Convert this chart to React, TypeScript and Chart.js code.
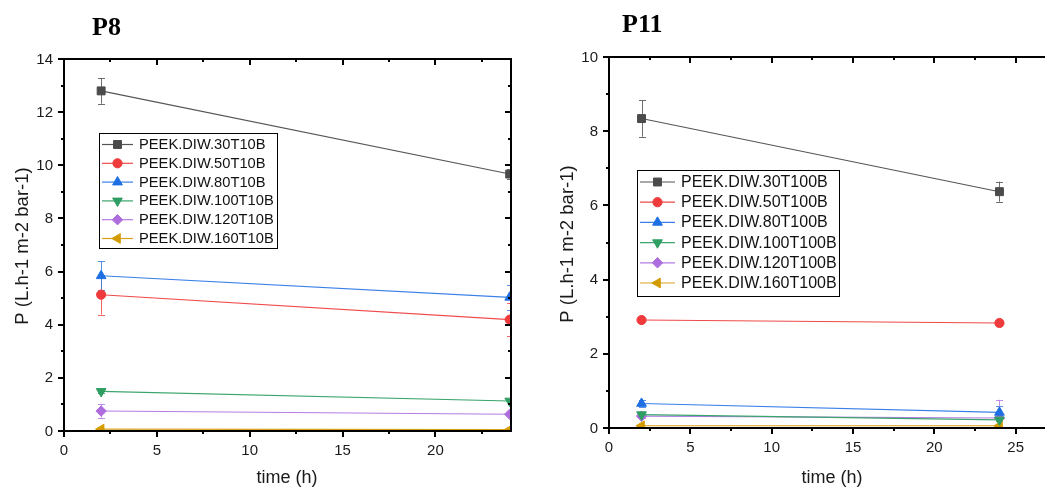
import React, { useEffect, useRef } from "react";
import { Chart, registerables } from "chart.js";

Chart.register(...registerables);

// ---------- data ----------
const timeH = [2, 24];

const p8Names = [
  "PEEK.DIW.30T10B",
  "PEEK.DIW.50T10B",
  "PEEK.DIW.80T10B",
  "PEEK.DIW.100T10B",
  "PEEK.DIW.120T10B",
  "PEEK.DIW.160T10B",
];
const p8_30 = [12.8, 9.67];
const p8_50 = [5.13, 4.19];
const p8_80 = [5.84, 5.03];
const p8_100 = [1.49, 1.13];
const p8_120 = [0.75, 0.63];
const p8_160 = [0.07, 0.05];
const p8_30Err = [0.48, 0.2];
const p8_50Err = [0.75, 0.63];
const p8_80Err = [0.54, 0.46];
const p8_100Err = [0.05, 0.05];
const p8_120Err = [0.25, 0.05];
const p8_160Err = [0.02, 0.02];

const p11Names = [
  "PEEK.DIW.30T100B",
  "PEEK.DIW.50T100B",
  "PEEK.DIW.80T100B",
  "PEEK.DIW.100T100B",
  "PEEK.DIW.120T100B",
  "PEEK.DIW.160T100B",
];
const p11_30 = [8.34, 6.37];
const p11_50 = [2.91, 2.83];
const p11_80 = [0.66, 0.42];
const p11_100 = [0.36, 0.22];
const p11_120 = [0.32, 0.27];
const p11_160 = [0.06, 0.06];
const p11_30Err = [0.49, 0.27];
const p11_50Err = [0.03, 0.03];
const p11_80Err = [0.1, 0.16];
const p11_100Err = [0.04, 0.03];
const p11_120Err = [0.05, 0.49];
const p11_160Err = [0.02, 0.02];

const p8YTicks = [0, 2, 4, 6, 8, 10, 12, 14];
const p11YTicks = [0, 2, 4, 6, 8, 10];
const p8XTicks = [0, 5, 10, 15, 20];
const p11XTicks = [0, 5, 10, 15, 20, 25];

const xTitle = "time (h)";
const yTitle = "P (L.h-1 m-2 bar-1)";

// ---------- styles ----------
const markerColors = ["#4b4b4b", "#ef3b3b", "#1d6fe3", "#2f9e62", "#ad6ddf", "#d39b00"];
const lineColors = ["#555555", "#f04a4a", "#3a80e8", "#3aa56c", "#b57ce4", "#d6a21a"];
const markerStyles = ["rect", "circle", "triangle", "triangle", "rectRot", "triangle"];
const markerRot = [0, 0, 0, 180, 0, 270];
const markerRad = [5.6, 4.6, 5.6, 5.6, 5.2, 5.6];

const SANS = "'Liberation Sans', Arial, sans-serif";
const SERIF = "'Liberation Serif', 'Times New Roman', serif";

type Spec = {
  key: string;
  title: string;
  titleX: number;
  titleY: number;
  canvasX: number;
  width: number;
  pad: { left: number; right: number; top: number; bottom: number };
  xMax: number;
  yMax: number;
  yTicks: number[];
  yMinorStep: number;
  xTicks: number[];
  names: string[];
  values: number[][];
  errs: number[][];
  rightBorder: boolean;
  yTitleX: number;
  yTitleY: number;
  xTitleX: number;
  xTitleY: number;
  legend: { x0: number; y0: number; x1: number; y1: number; row0: number; rowH: number; lineX0: number; lineX1: number; textX: number; font: number };
};

const p8Spec: Spec = {
  key: "p8",
  title: "P8",
  titleX: 92,
  titleY: 35,
  canvasX: 0,
  width: 545,
  pad: { left: 64, right: 545 - 511, top: 59, bottom: 488 - 431 },
  xMax: 24.07,
  yMax: 14,
  yTicks: p8YTicks,
  yMinorStep: 1,
  xTicks: p8XTicks,
  names: p8Names,
  values: [p8_30, p8_50, p8_80, p8_100, p8_120, p8_160],
  errs: [p8_30Err, p8_50Err, p8_80Err, p8_100Err, p8_120Err, p8_160Err],
  rightBorder: true,
  yTitleX: 23,
  yTitleY: 246,
  xTitleX: 287,
  xTitleY: 478,
  legend: { x0: 99.5, y0: 133.5, x1: 277.5, y1: 248.5, row0: 144.5, rowH: 18.8, lineX0: 102, lineX1: 133, textX: 139, font: 14.7 },
};

const p11Spec: Spec = {
  key: "p11",
  title: "P11",
  titleX: 622 - 545,
  titleY: 32,
  canvasX: 545,
  width: 500,
  pad: { left: 609 - 545, right: 0, top: 57, bottom: 488 - 428 },
  xMax: 26.8,
  yMax: 10,
  yTicks: p11YTicks,
  yMinorStep: 1,
  xTicks: p11XTicks,
  names: p11Names,
  values: [p11_30, p11_50, p11_80, p11_100, p11_120, p11_160],
  errs: [p11_30Err, p11_50Err, p11_80Err, p11_100Err, p11_120Err, p11_160Err],
  rightBorder: false,
  yTitleX: 568 - 545,
  yTitleY: 244,
  xTitleX: 832 - 545,
  xTitleY: 478,
  legend: { x0: 637.5 - 545, y0: 170.5, x1: 839.5 - 545, y1: 296.5, row0: 182, rowH: 20.2, lineX0: 640 - 545, lineX1: 675 - 545, textX: 681 - 545, font: 16 },
};

// ---------- helpers ----------
function drawMarker(ctx: CanvasRenderingContext2D, style: string, x: number, y: number, r: number, rotDeg: number, color: string) {
  const rad = (rotDeg * Math.PI) / 180;
  ctx.save();
  ctx.fillStyle = color;
  ctx.strokeStyle = color;
  ctx.lineWidth = 1;
  ctx.beginPath();
  if (style === "rect") {
    const s = Math.SQRT1_2 * r;
    ctx.rect(x - s, y - s, 2 * s, 2 * s);
  } else if (style === "circle") {
    ctx.arc(x, y, r, 0, Math.PI * 2);
  } else if (style === "triangle") {
    let a = rad;
    ctx.moveTo(x + Math.sin(a) * r, y - Math.cos(a) * r);
    a += (2 * Math.PI) / 3;
    ctx.lineTo(x + Math.sin(a) * r, y - Math.cos(a) * r);
    a += (2 * Math.PI) / 3;
    ctx.lineTo(x + Math.sin(a) * r, y - Math.cos(a) * r);
    ctx.closePath();
  } else if (style === "rectRot") {
    ctx.moveTo(x, y - r);
    ctx.lineTo(x + r, y);
    ctx.lineTo(x, y + r);
    ctx.lineTo(x - r, y);
    ctx.closePath();
  }
  ctx.fill();
  ctx.stroke();
  ctx.restore();
}

function errorBarPlugin(p: Spec) {
  return {
    id: "errbars_" + p.key,
    beforeDatasetsDraw(chart: any) {
      const ctx: CanvasRenderingContext2D = chart.ctx;
      const xs = chart.scales.x;
      const ys = chart.scales.y;
      const a = chart.chartArea;
      ctx.save();
      ctx.beginPath();
      ctx.rect(a.left, a.top - 1, a.right - a.left + 1, a.bottom - a.top + 1);
      ctx.clip();
      ctx.lineWidth = 1;
      p.values.forEach((vals, i) => {
        ctx.strokeStyle = lineColors[i];
        ctx.globalAlpha = 0.85;
        vals.forEach((v, j) => {
          const e = p.errs[i][j];
          const px = Math.round(xs.getPixelForValue(timeH[j])) + 0.5;
          const yt = ys.getPixelForValue(v + e);
          const yb = ys.getPixelForValue(v - e);
          ctx.beginPath();
          ctx.moveTo(px, yt);
          ctx.lineTo(px, yb);
          ctx.moveTo(px - 3.5, Math.round(yt) + 0.5);
          ctx.lineTo(px + 3.5, Math.round(yt) + 0.5);
          ctx.moveTo(px - 3.5, Math.round(yb) + 0.5);
          ctx.lineTo(px + 3.5, Math.round(yb) + 0.5);
          ctx.stroke();
        });
      });
      ctx.restore();
    },
  };
}

function framePlugin(p: Spec) {
  return {
    id: "frame_" + p.key,
    afterDraw(chart: any) {
      const ctx: CanvasRenderingContext2D = chart.ctx;
      const { left, right, top, bottom } = chart.chartArea;
      const xs = chart.scales.x;
      const ys = chart.scales.y;
      const L = Math.round(left);
      const R = Math.round(right);
      const T = Math.round(top);
      const B = Math.round(bottom);
      const edge = p.rightBorder ? R + 1 : chart.width;
      ctx.save();
      ctx.strokeStyle = "#000";
      ctx.lineWidth = 2;
      ctx.beginPath();
      ctx.moveTo(L, T - 1);
      ctx.lineTo(L, B + 1);
      ctx.moveTo(L - 1, B);
      ctx.lineTo(edge, B);
      ctx.moveTo(L - 1, T);
      ctx.lineTo(edge, T);
      if (p.rightBorder) {
        ctx.moveTo(R, T - 1);
        ctx.lineTo(R, B + 1);
      }
      // y ticks
      for (let v = 0; v <= p.yMax + 1e-9; v += p.yMinorStep) {
        const isMajor = p.yTicks.indexOf(v) >= 0;
        const len = isMajor ? 6 : 3;
        const y = Math.round(ys.getPixelForValue(v));
        ctx.moveTo(L - len, y);
        ctx.lineTo(L, y);
        if (p.rightBorder) {
          ctx.moveTo(R, y);
          ctx.lineTo(R - len, y);
        }
      }
      // x ticks
      for (let v = 0; v <= p.xMax + 1e-9; v += 2.5) {
        const isMajor = p.xTicks.indexOf(v) >= 0;
        const len = isMajor ? 6 : 3;
        const x = Math.round(xs.getPixelForValue(v));
        ctx.moveTo(x, B);
        ctx.lineTo(x, B + len);
        if (v > 0) {
          ctx.moveTo(x, T);
          ctx.lineTo(x, T + len);
        }
      }
      ctx.stroke();

      // tick labels
      ctx.fillStyle = "#1a1a1a";
      ctx.font = `15px ${SANS}`;
      ctx.textAlign = "right";
      ctx.textBaseline = "middle";
      p.yTicks.forEach((v) => {
        ctx.fillText(String(v), L - 11, ys.getPixelForValue(v) + 0.5);
      });
      ctx.textAlign = "center";
      p.xTicks.forEach((v) => {
        ctx.fillText(String(v), xs.getPixelForValue(v), B + 20);
      });

      // axis titles
      ctx.font = `18px ${SANS}`;
      ctx.fillText(xTitle, p.xTitleX, p.xTitleY);
      ctx.save();
      ctx.translate(p.yTitleX, p.yTitleY);
      ctx.rotate(-Math.PI / 2);
      ctx.font = `18.5px ${SANS}`;
      ctx.fillText(yTitle, 0, 0);
      ctx.restore();

      // panel title
      ctx.fillStyle = "#000";
      ctx.font = `bold 26px ${SERIF}`;
      ctx.textAlign = "left";
      ctx.textBaseline = "alphabetic";
      ctx.fillText(p.title, p.titleX, p.titleY);
      ctx.restore();
    },
  };
}

function legendPlugin(p: Spec) {
  return {
    id: "legend_" + p.key,
    afterDraw(chart: any) {
      const ctx: CanvasRenderingContext2D = chart.ctx;
      const g = p.legend;
      ctx.save();
      ctx.fillStyle = "#fff";
      ctx.fillRect(g.x0, g.y0, g.x1 - g.x0, g.y1 - g.y0);
      ctx.strokeStyle = "#000";
      ctx.lineWidth = 1;
      ctx.strokeRect(g.x0, g.y0, g.x1 - g.x0, g.y1 - g.y0);
      ctx.font = `${g.font}px ${SANS}`;
      ctx.textAlign = "left";
      ctx.textBaseline = "middle";
      p.names.forEach((name, i) => {
        const y = g.row0 + i * g.rowH;
        ctx.strokeStyle = lineColors[i];
        ctx.lineWidth = 1.2;
        ctx.beginPath();
        ctx.moveTo(g.lineX0, y);
        ctx.lineTo(g.lineX1, y);
        ctx.stroke();
        drawMarker(ctx, markerStyles[i], (g.lineX0 + g.lineX1) / 2, y, markerRad[i], markerRot[i], markerColors[i]);
        ctx.fillStyle = "#111";
        ctx.fillText(name, g.textX, y + 0.5);
      });
      ctx.restore();
    },
  };
}

function makeConfig(p: Spec): any {
  return {
    type: "line",
    data: {
      datasets: p.names.map((name, i) => ({
        label: name,
        data: timeH.map((t, j) => ({ x: t, y: p.values[i][j] })),
        borderColor: lineColors[i],
        backgroundColor: markerColors[i],
        pointBackgroundColor: markerColors[i],
        pointBorderColor: markerColors[i],
        pointBorderWidth: 1,
        pointStyle: markerStyles[i],
        pointRotation: markerRot[i],
        pointRadius: markerRad[i],
        borderWidth: 1.1,
        tension: 0,
        fill: false,
      })),
    },
    options: {
      responsive: false,
      animation: false,
      events: [],
      layout: { padding: p.pad, autoPadding: false },
      plugins: {
        legend: { display: false },
        tooltip: { enabled: false },
        title: { display: false },
      },
      scales: {
        x: { type: "linear", min: 0, max: p.xMax, display: false },
        y: { type: "linear", min: 0, max: p.yMax, display: false },
      },
    },
    plugins: [errorBarPlugin(p), framePlugin(p), legendPlugin(p)],
  };
}

function Panel({ spec }: { spec: Spec }) {
  const ref = useRef<HTMLCanvasElement | null>(null);
  useEffect(() => {
    if (!ref.current) return;
    const chart = new Chart(ref.current, makeConfig(spec));
    return () => chart.destroy();
  }, [spec]);
  return (
    <canvas
      ref={ref}
      width={spec.width}
      height={488}
      style={{ position: "absolute", left: spec.canvasX, top: 0, width: spec.width, height: 488 }}
    />
  );
}

export default function App() {
  return (
    <div
      style={{
        position: "fixed",
        left: 0,
        top: 0,
        width: 1045,
        height: 488,
        overflow: "hidden",
        background: "#fff",
      }}
    >
      <Panel spec={p8Spec} />
      <Panel spec={p11Spec} />
    </div>
  );
}
